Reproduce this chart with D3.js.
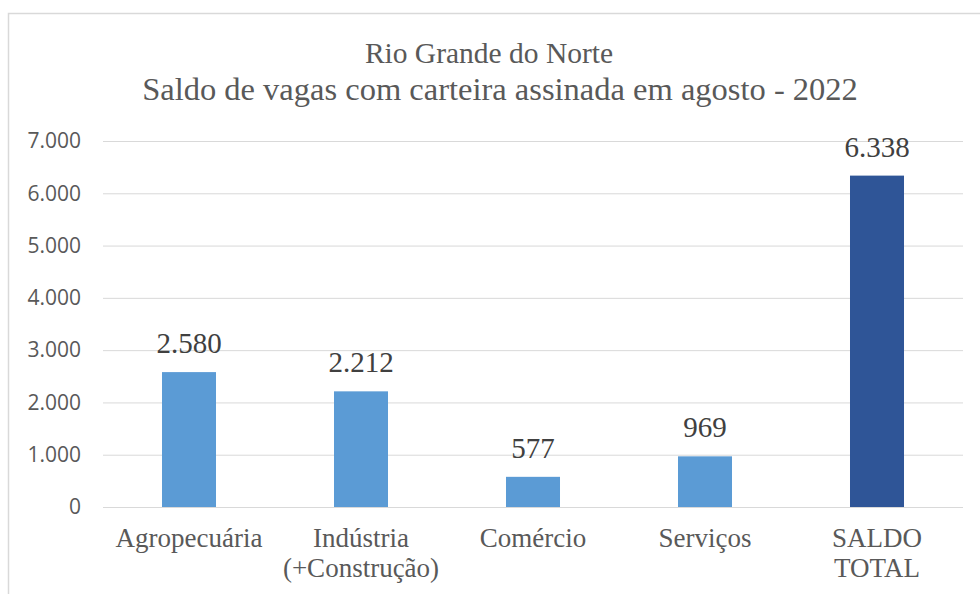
<!DOCTYPE html>
<html>
<head>
    <meta charset="utf-8">
    <title>Rio Grande do Norte - Saldo de vagas</title>
    <script src='https://d3js.org/d3.v7.min.js'></script>
    <style>
        html, body {margin: 0; padding: 0; background: white;}
        .tick line {stroke: #d9d9d9;}
        .domain {display: none;}
    </style>
</head>
<body>
<div id="vis"></div>
<script>

// values
var categories = ["Agropecuária", "Indústria\n(+Construção)", "Comércio", "Serviços", "SALDO\nTOTAL"];
var saldo = [2580, 2212, 577, 969, 6338];
var barColors = ["#5b9bd5", "#5b9bd5", "#5b9bd5", "#5b9bd5", "#2f5597"];
var yTicks = [0, 1000, 2000, 3000, 4000, 5000, 6000, 7000];
var titleLines = ["Rio Grande do Norte", "Saldo de vagas com carteira assinada em agosto - 2022"];

var width = 980, height = 594;
var margin = {top: 141, bottom: 87, left: 103, right: 17};
var serif = "'Liberation Serif', 'Times New Roman', serif";

var svg = d3.select('#vis')
    .append('svg')
    .attr('width', width)
    .attr('height', height);

// chart area border (cut off at right and bottom like the screenshot)
svg.append('rect')
    .attr('x', 8.5).attr('y', 13.5)
    .attr('width', 1200).attr('height', 1200)
    .attr('fill', 'none').attr('stroke', '#d9d9d9').attr('stroke-width', 1.5);

var g = svg.append('g')
    .attr('transform', 'translate(' + margin.left + ',' + margin.top + ')');
var w = width - margin.left - margin.right;
var h = height - margin.top - margin.bottom;

var x_scale = d3.scaleBand().domain(categories).range([0, w]).paddingInner(0.686).paddingOuter(0.343);
var y_scale = d3.scaleLinear().domain([0, 7000]).range([h, 0]);

var fmt = function(d) { return d3.format(',')(d).replace(/,/g, '.'); };

// gridlines + y labels
var yAxis = g.append('g')
    .call(d3.axisLeft(y_scale).tickValues(yTicks).tickSize(-w).tickPadding(22).tickFormat(fmt));
yAxis.selectAll('text')
    .attr('fill', '#595959')
    .style('font-family', "'Open Sans', sans-serif")
    .style('font-size', '21px');

// bars
g.selectAll('.bar').data(saldo).enter().append('rect')
    .attr('class', 'bar')
    .attr('x', function(d, i) { return x_scale(categories[i]); })
    .attr('y', function(d) { return y_scale(d); })
    .attr('width', x_scale.bandwidth())
    .attr('height', function(d) { return h - y_scale(d); })
    .attr('fill', function(d, i) { return barColors[i]; });

// value labels
g.selectAll('.val').data(saldo).enter().append('text')
    .attr('class', 'val')
    .attr('x', function(d, i) { return x_scale(categories[i]) + x_scale.bandwidth() / 2; })
    .attr('y', function(d) { return y_scale(d) - 19; })
    .attr('text-anchor', 'middle')
    .attr('fill', '#404040')
    .style('font-family', serif)
    .style('font-size', '29px')
    .text(fmt);

// category labels
var cat = g.selectAll('.cat').data(categories).enter().append('text')
    .attr('class', 'cat')
    .attr('text-anchor', 'middle')
    .attr('fill', '#595959')
    .style('font-family', serif)
    .style('font-size', '27px')
    .attr('transform', function(d) { return 'translate(' + (x_scale(d) + x_scale.bandwidth() / 2) + ',' + (h + 40) + ')'; });
cat.selectAll('tspan').data(function(d) { return d.split('\n'); }).enter().append('tspan')
    .attr('x', 0)
    .attr('dy', function(d, i) { return i ? 30 : 0; })
    .text(function(d) { return d; });

// title, two lines (second one a bit larger in the original)
svg.append('text')
    .attr('x', 489).attr('y', 63)
    .attr('text-anchor', 'middle')
    .attr('fill', '#595959')
    .style('font-family', serif)
    .style('font-size', '29.5px')
    .text(titleLines[0]);
svg.append('text')
    .attr('x', 500).attr('y', 100)
    .attr('text-anchor', 'middle')
    .attr('fill', '#595959')
    .style('font-family', serif)
    .style('font-size', '32.5px')
    .text(titleLines[1]);

</script>
</body>
</html>
